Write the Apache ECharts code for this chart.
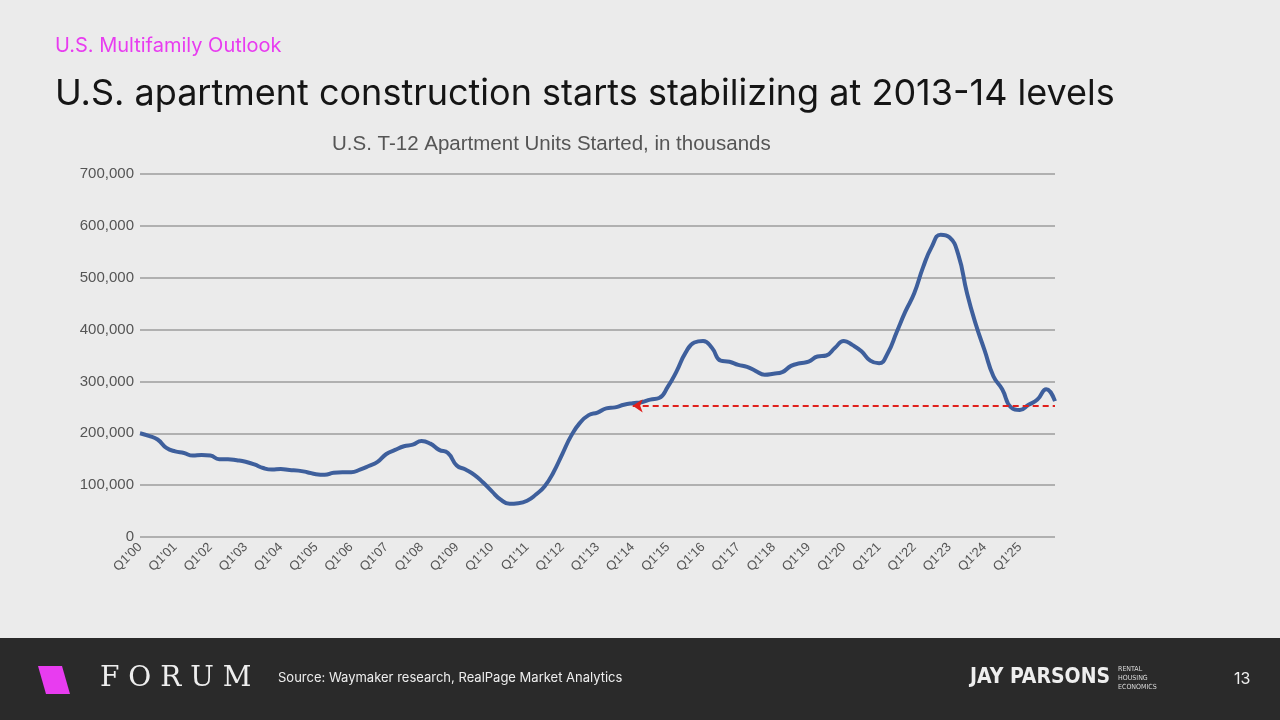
<!DOCTYPE html>
<html><head><meta charset="utf-8">
<script src="https://cdn.jsdelivr.net/npm/echarts@6/dist/echarts.min.js"></script>
<style>html,body{margin:0;padding:0;background:#ebebeb}#c{width:1280px;height:720px}</style>
</head><body><div id="c"></div>
<script>
const years = [];
for (let y = 0; y <= 26; y++) years.push(String(y).padStart(2,'0'));
const categories = [];
years.forEach(y => { for (let q = 1; q <= 4; q++) categories.push('Q' + q + "'" + y); });
categories.length = 105;
const starts = [
200,195,188,172, 165,162,157,158, 157,150,150,148, 145,140,133,130,
131,129,128,125, 121,120,124,125, 125,130,137,145, 160,168,175,178,
185,180,168,162, 138,130,120,105, 88,72,64,65, 70,82,98,125,
160,195,220,235, 240,248,250,255, 258,260,265,268, 290,320,355,375,
378,365,340,338, 332,328,320,313, 315,318,330,335, 338,348,350,365,
378,370,358,340, 335,355,395,435, 470,520,560,583, 578,545,470,410,
360,310,285,250, 245,255,265,285, 262
].map(v => v * 1000);
const refLevel = 253000;
const refFrom = "Q1'14", refTo = "Q1'26";

const chart = echarts.init(document.getElementById('c'));
chart.setOption({
  backgroundColor: '#ebebeb',
  animation: false,
  grid: {left: 140, right: 225, top: 174, bottom: 183},
  xAxis: {type: 'category', data: categories, boundaryGap: false,
    axisLine: {show: false}, axisTick: {show: false},
    axisLabel: {interval: (i) => i % 4 === 0 && i < 104, rotate: 45, color: '#555', fontSize: 13, fontFamily: 'Liberation Sans', margin: 8}},
  yAxis: {type: 'value', min: 0, max: 700000, interval: 100000,
    axisLine: {show: false}, axisTick: {show: false},
    splitLine: {lineStyle: {color: '#b0b0b0', width: 2}},
    axisLabel: {color: '#555', fontSize: 15, fontFamily: 'Liberation Sans', margin: 6,
      formatter: v => v === 0 ? '0' : v.toLocaleString('en-US')}},
  series: [{type: 'line', data: starts, smooth: true, symbol: 'none',
    lineStyle: {color: '#3e5f9c', width: 4},
    markLine: {silent: true, symbol: ['arrow','none'], symbolSize: 10,
      lineStyle: {color: '#e0201c', type: [6,4], width: 2}, label: {show: false},
      data: [[{coord: [refFrom, refLevel]}, {coord: [refTo, refLevel]}]]}}],
  graphic: [
    {type:'text', left: 55, top: 36, style:{text:'U.S. Multifamily Outlook', fill:'#e83cf0', font:'20px Inter, Roboto'}},
    {type:'text', left: 55, top: 76, style:{text:'U.S. apartment construction starts stabilizing at 2013-14 levels', fill:'#151515', font:'36px Inter, Roboto'}},
    {type:'text', left: 332, top: 134, style:{text:'U.S. T-12 Apartment Units Started, in thousands', fill:'#555', font:'20.5px Liberation Sans'}},
    {type:'rect', shape:{x:0,y:638,width:1280,height:82}, style:{fill:'#2a2a2a'}},
    {type:'polygon', shape:{points:[[38,666],[62,666],[70,694],[46,694]]}, style:{fill:'#e83cf0'}},
    {type:'text', left: 100, top: 665, style:{text:'F O R U M', fill:'#eee', font:'28px DejaVu Serif'}},
    {type:'text', left: 278, top: 672, style:{text:'Source: Waymaker research, RealPage Market Analytics', fill:'#eee', font:'13px Inter, Roboto'}},
    {type:'text', left: 970, top: 667, style:{text:'JAY PARSONS', fill:'#eee', font:'bold 21px DejaVu Sans Condensed, Liberation Sans'}},
    {type:'text', left: 1118, top: 665, style:{text:'RENTAL\nHOUSING\nECONOMICS', fill:'#ddd', font:'7px DejaVu Sans Condensed', lineHeight: 9}},
    {type:'text', left: 1234, top: 671, style:{text:'13', fill:'#eee', font:'16px Inter, Roboto'}}
  ]
});
</script></body></html>
